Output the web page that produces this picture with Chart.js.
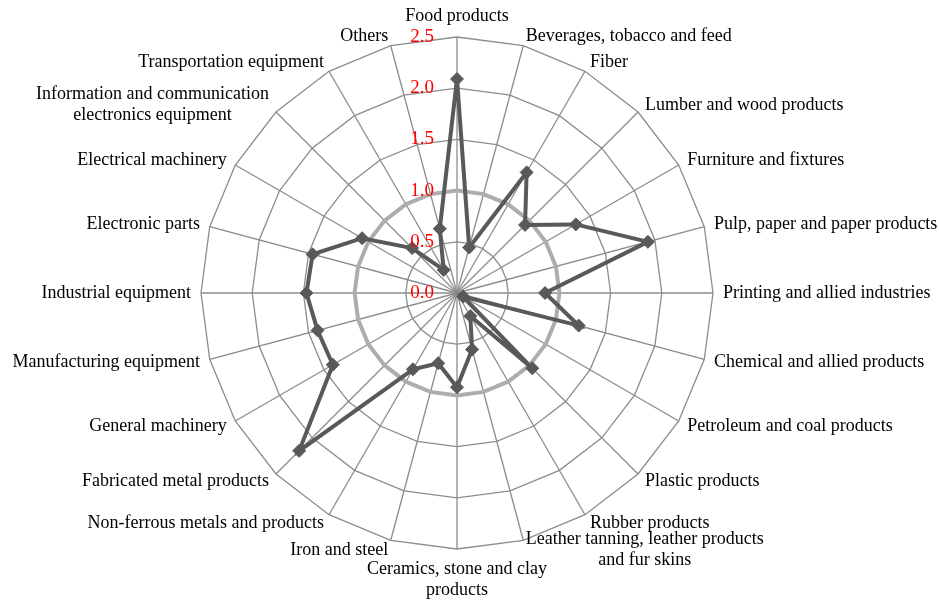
<!DOCTYPE html>
<html>
<head>
<meta charset="utf-8">
<script src="https://cdn.jsdelivr.net/npm/chart.js@4.4.1/dist/chart.umd.min.js"></script>
<style>
  html, body { margin: 0; padding: 0; background: #fff; }
  #wrap { width: 939px; height: 602px; }
</style>
</head>
<body>
<div id="wrap"><canvas id="radar"></canvas></div>
<script>
const industries = [
  "Food products",
  "Beverages, tobacco and feed",
  "Fiber",
  "Lumber and wood products",
  "Furniture and fixtures",
  "Pulp, paper and paper products",
  "Printing and allied industries",
  "Chemical and allied products",
  "Petroleum and coal products",
  "Plastic products",
  "Rubber products",
  ["Leather tanning, leather products", "and fur skins"],
  ["Ceramics, stone and clay", "products"],
  "Iron and steel",
  "Non-ferrous metals and products",
  "Fabricated metal products",
  "General machinery",
  "Manufacturing equipment",
  "Industrial equipment",
  "Electronic parts",
  "Electrical machinery",
  ["Information and communication", "electronics equipment"],
  "Transportation equipment",
  "Others"
];

const indexValues = [
  2.09, 0.46, 1.36, 0.94, 1.34, 1.93, 0.86, 1.23,
  0.07, 1.04, 0.26, 0.57, 0.92, 0.71, 0.86, 2.18,
  1.40, 1.41, 1.47, 1.46, 1.07, 0.62, 0.26, 0.65
];

// reference level drawn as the light ring
const baseline = [
  1.0, 1.0, 1.0, 1.0, 1.0, 1.0, 1.0, 1.0,
  1.0, 1.0, 1.0, 1.0, 1.0, 1.0, 1.0, 1.0,
  1.0, 1.0, 1.0, 1.0, 1.0, 1.0, 1.0, 1.0
];

const tickValues = [0, 0.5, 1.0, 1.5, 2.0, 2.5];

const serif = "'Liberation Serif', 'Times New Roman', Times, serif";
Chart.defaults.font.family = serif;

// category names placed Excel-style (centred vertically on the side spokes),
// plus red value labels left of the vertical axis, including 0.0
const radarText = {
  id: "radarText",
  afterDatasetsDraw(chart) {
    const scale = chart.scales.r;
    const ctx = chart.ctx;
    const lh = 20.7;
    ctx.save();
    ctx.font = "18px " + serif;
    ctx.fillStyle = "#000";
    ctx.textBaseline = "middle";
    ctx.textAlign = "center";
    industries.forEach((label, i) => {
      const lines = Array.isArray(label) ? label : [label];
      const pos = scale.getPointPosition(i, scale.drawingArea + 10);
      const deg = Math.round(i * 360 / industries.length);
      const blockW = Math.max(...lines.map((l) => ctx.measureText(l).width));
      const blockH = lines.length * lh;
      let left = pos.x - blockW / 2;
      if (deg > 0 && deg < 180) left = pos.x;
      if (deg > 180) left = pos.x - blockW;
      let top = pos.y - blockH / 2;
      if (deg === 0) top = pos.y - blockH;
      if (deg === 180) top = pos.y;
      lines.forEach((line, k) => {
        ctx.fillText(line, left + blockW / 2, top + lh * (k + 0.5));
      });
    });

    ctx.font = "19px " + serif;
    ctx.fillStyle = "#ff0000";
    ctx.textAlign = "right";
    tickValues.forEach((v) => {
      const y = scale.yCenter - scale.getDistanceFromCenterForValue(v);
      ctx.fillText(v.toFixed(1), scale.xCenter - 23, y);
    });
    ctx.restore();
  }
};

new Chart(document.getElementById("radar"), {
  type: "radar",
  data: {
    labels: industries,
    datasets: [
      {
        label: "Index",
        data: indexValues,
        borderColor: "#595959",
        backgroundColor: "#595959",
        borderWidth: 4,
        fill: false,
        pointStyle: "rectRot",
        pointRadius: 6.5,
        pointBorderWidth: 1,
        pointBackgroundColor: "#595959",
        pointBorderColor: "#595959"
      },
      {
        label: "Baseline",
        data: baseline,
        borderColor: "#adadad",
        borderWidth: 4,
        fill: false,
        pointRadius: 0
      }
    ]
  },
  options: {
    responsive: true,
    maintainAspectRatio: false,
    animation: false,
    layout: { padding: { top: 37, bottom: 53, left: 0, right: 25 } },
    plugins: {
      legend: { display: false },
      tooltip: { enabled: false }
    },
    scales: {
      r: {
        min: 0,
        max: 2.5,
        ticks: { display: false, stepSize: 0.5 },
        grid: { color: "#8c8c8c", lineWidth: 1.3 },
        angleLines: { color: "#8c8c8c", lineWidth: 1.3 },
        pointLabels: { display: false }
      }
    }
  },
  plugins: [radarText]
});
</script>
</body>
</html>
